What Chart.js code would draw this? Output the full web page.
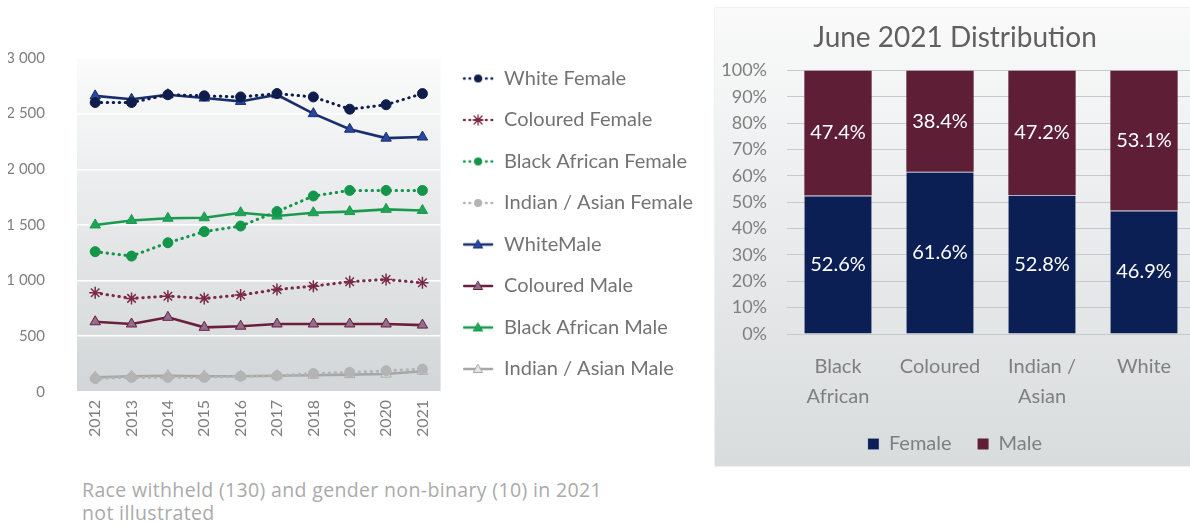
<!DOCTYPE html>
<html>
<head>
<meta charset="utf-8">
<title>Staff by race and gender</title>
<script src="https://cdn.jsdelivr.net/npm/chart.js@4.4.1/dist/chart.umd.min.js"></script>
<style>
  html, body { margin: 0; padding: 0; background: #fff; overflow: hidden; }
  body { width: 1190px; height: 525px; position: relative; font-family: Lato, sans-serif; }
  #trendChart { position: absolute; left: 0; top: 0; }
  #distPanel {
    position: absolute; left: 715px; top: 8px; width: 490px; height: 458px;
    background: linear-gradient(to bottom, #fafafa 0%, #e9ebec 50%, #d9dcdd 100%);
    box-shadow: 0 0 2px rgba(0, 0, 0, 0.18);
  }
  #distChart { position: absolute; left: 0; top: 0; }
  #note {
    position: absolute; left: 82px; top: 478px;
    font-family: 'Open Sans', sans-serif; font-size: 19.5px; letter-spacing: 0.35px;
    line-height: 23px; color: #aaaaaa;
  }
</style>
</head>
<body>
<canvas id="trendChart" width="703" height="450"></canvas>
<div id="distPanel"><canvas id="distChart" width="485" height="458"></canvas></div>
<div id="note">Race withheld (130) and gender non-binary (10) in 2021<br>not illustrated</div>

<script>
// Headcount per year, by race and gender
const years = ['2012', '2013', '2014', '2015', '2016', '2017', '2018', '2019', '2020', '2021'];
const whiteFemale        = [2600, 2600, 2670, 2660, 2650, 2680, 2650, 2540, 2580, 2680];
const colouredFemale     = [890, 840, 860, 840, 870, 920, 950, 990, 1010, 980];
const blackAfricanFemale = [1260, 1220, 1340, 1440, 1490, 1620, 1760, 1810, 1810, 1810];
const indianAsianFemale  = [120, 130, 130, 130, 140, 145, 165, 175, 190, 205];
const whiteMale          = [2660, 2630, 2670, 2640, 2610, 2670, 2500, 2360, 2280, 2290];
const colouredMale       = [630, 610, 670, 580, 590, 610, 610, 610, 610, 600];
const blackAfricanMale   = [1500, 1540, 1560, 1565, 1610, 1580, 1610, 1620, 1640, 1630];
const indianAsianMale    = [130, 140, 145, 140, 140, 145, 150, 155, 160, 185];
const countTicks = [0, 500, 1000, 1500, 2000, 2500, 3000];

// June 2021 split per race group
const raceGroups  = [['Black', 'African'], 'Coloured', ['Indian /', 'Asian'], 'White'];
const femaleShare = [52.6, 61.6, 52.8, 46.9];
const maleShare   = [47.4, 38.4, 47.2, 53.1];
const shareTicks  = [0, 10, 20, 30, 40, 50, 60, 70, 80, 90, 100];

const GREY_TEXT = '#7f7f7f';

// small line + marker image used in the legend
function legendSwatch(color, dotted, marker, fill) {
    const c = document.createElement('canvas');
    c.width = 32; c.height = 14;
    const g = c.getContext('2d');
    g.strokeStyle = color;
    g.lineCap = 'round';
    g.lineWidth = dotted ? 2.6 : 2.4;
    if (dotted) g.setLineDash([0.5, 5]);
    g.beginPath(); g.moveTo(2, 7); g.lineTo(30, 7); g.stroke();
    g.setLineDash([]);
    g.fillStyle = fill;
    g.lineWidth = 1;
    if (marker === 'circle') {
        g.beginPath(); g.arc(16, 7, 4, 0, Math.PI * 2); g.fill();
    } else if (marker === 'triangle') {
        g.beginPath(); g.moveTo(16, 2.5); g.lineTo(20.5, 10.5); g.lineTo(11.5, 10.5); g.closePath();
        g.fill(); g.stroke();
    } else if (marker === 'star') {
        g.lineWidth = 1.3;
        g.beginPath();
        g.moveTo(12, 3); g.lineTo(20, 11); g.moveTo(20, 3); g.lineTo(12, 11);
        g.moveTo(16, 2); g.lineTo(16, 12); g.moveTo(11, 7); g.lineTo(21, 7);
        g.stroke();
    }
    return c;
}

const series = [
    { label: 'White Female', data: whiteFemale, color: '#0f1d4d', fill: '#0f1d4d', dotted: true, marker: 'circle' },
    { label: 'Coloured Female', data: colouredFemale, color: '#7a2a45', fill: '#7a2a45', dotted: true, marker: 'star' },
    { label: 'Black African Female', data: blackAfricanFemale, color: '#13954a', fill: '#13954a', dotted: true, marker: 'circle' },
    { label: 'Indian / Asian Female', data: indianAsianFemale, color: '#b4b4b4', fill: '#b4b4b4', dotted: true, marker: 'circle' },
    { label: 'WhiteMale', data: whiteMale, color: '#1a2d6c', fill: '#2847a3', dotted: false, marker: 'triangle' },
    { label: 'Coloured Male', data: colouredMale, color: '#6b1f3d', fill: '#8f6f8d', dotted: false, marker: 'triangle' },
    { label: 'Black African Male', data: blackAfricanMale, color: '#199a4e', fill: '#20a556', dotted: false, marker: 'triangle' },
    { label: 'Indian / Asian Male', data: indianAsianMale, color: '#a7a7a7', fill: '#e4e4e4', dotted: false, marker: 'triangle' }
];

// grey gradient behind the plot area
const plotShade = {
    id: 'plotShade',
    beforeDraw(chart) {
        const { ctx, chartArea: a } = chart;
        const grad = ctx.createLinearGradient(0, a.top, 0, a.bottom);
        grad.addColorStop(0, '#fbfbfb');
        grad.addColorStop(0.5, '#e6e8e9');
        grad.addColorStop(1, '#d3d6d8');
        ctx.save();
        ctx.fillStyle = grad;
        ctx.fillRect(a.left, a.top, a.right - a.left, a.bottom - a.top);
        ctx.restore();
    }
};

const spaced = v => String(v).replace(/\B(?=(\d{3})+(?!\d))/g, ' ');

new Chart(document.getElementById('trendChart'), {
    type: 'line',
    data: {
        labels: years,
        datasets: series.map(s => ({
            label: s.label,
            data: s.data,
            borderColor: s.color,
            borderWidth: s.dotted ? 3 : 2.6,
            borderDash: s.dotted ? [0.5, 5.5] : [],
            borderCapStyle: s.dotted ? 'round' : 'butt',
            tension: 0,
            pointStyle: s.marker,
            pointRadius: s.marker === 'circle' ? 5 : 6,
            pointBackgroundColor: s.fill,
            pointBorderColor: s.color,
            pointBorderWidth: s.marker === 'star' ? 1.5 : 1,
            swatch: legendSwatch(s.color, s.dotted, s.marker, s.fill)
        }))
    },
    options: {
        responsive: false,
        animation: false,
        layout: { padding: { top: 47, left: 8, right: 0, bottom: 5 } },
        plugins: {
            tooltip: { enabled: false },
            legend: {
                position: 'right',
                align: 'start',
                maxWidth: 300,
                labels: {
                    usePointStyle: true,
                    pointStyleWidth: 32,
                    padding: 21.5,
                    color: '#737373',
                    font: { family: 'Lato', size: 20 },
                    generateLabels: chart => chart.data.datasets.map((ds, i) => ({
                        text: ds.label,
                        pointStyle: ds.swatch,
                        fillStyle: 'transparent',
                        strokeStyle: 'transparent',
                        lineWidth: 0,
                        fontColor: '#737373',
                        hidden: false,
                        datasetIndex: i
                    }))
                }
            }
        },
        scales: {
            x: {
                offset: true,
                grid: { display: false, drawTicks: false },
                border: { display: false },
                ticks: {
                    color: GREY_TEXT,
                    font: { family: 'Lato', size: 16 },
                    minRotation: 90, maxRotation: 90,
                    padding: 8
                }
            },
            y: {
                min: countTicks[0],
                max: countTicks[countTicks.length - 1],
                afterBuildTicks: s => { s.ticks = countTicks.map(v => ({ value: v })); },
                afterFit: s => { s.width = 69; s.paddingTop = 58; },
                grid: { color: '#ffffff', lineWidth: 1.5, drawTicks: false },
                border: { display: false },
                ticks: {
                    color: GREY_TEXT,
                    font: { family: 'Lato', size: 15 },
                    padding: 32,
                    autoSkip: false,
                    callback: v => spaced(v)
                }
            }
        }
    },
    plugins: [plotShade]
});

// percentage written in the middle of each bar segment
const segmentLabels = {
    id: 'segmentLabels',
    afterDatasetsDraw(chart) {
        const { ctx } = chart;
        ctx.save();
        ctx.fillStyle = '#ffffff';
        ctx.font = '20px Lato';
        ctx.textAlign = 'center';
        ctx.textBaseline = 'middle';
        chart.data.datasets.forEach((ds, i) => {
            chart.getDatasetMeta(i).data.forEach((bar, j) => {
                ctx.fillText(ds.data[j].toFixed(1) + '%', bar.x, (bar.y + bar.base) / 2);
            });
        });
        ctx.restore();
    }
};

new Chart(document.getElementById('distChart'), {
    type: 'bar',
    data: {
        labels: raceGroups,
        datasets: [
            {
                label: 'Female',
                data: femaleShare,
                backgroundColor: '#0c1f55',
                borderColor: '#aeb4d2',
                borderWidth: { top: 1, right: 0, bottom: 0, left: 0 },
                borderSkipped: false,
                categoryPercentage: 1,
                barPercentage: 0.66
            },
            {
                label: 'Male',
                data: maleShare,
                backgroundColor: '#5e1f36',
                borderWidth: 0,
                categoryPercentage: 1,
                barPercentage: 0.66
            }
        ]
    },
    options: {
        responsive: false,
        animation: false,
        layout: { padding: { top: 0, left: 0, right: 5, bottom: 2 } },
        plugins: {
            tooltip: { enabled: false },
            title: {
                display: true,
                text: 'June 2021 Distribution',
                color: '#606060',
                font: { family: 'Lato', size: 28, weight: 'normal' },
                padding: { top: 13, bottom: 16 }
            },
            legend: {
                position: 'bottom',
                labels: {
                    boxWidth: 11,
                    boxHeight: 11,
                    padding: 26,
                    color: GREY_TEXT,
                    font: { family: 'Lato', size: 20 }
                }
            }
        },
        scales: {
            x: {
                stacked: true,
                afterFit: s => { s.height -= 22; },
                grid: { display: false, drawTicks: false },
                border: { display: false },
                ticks: {
                    color: GREY_TEXT,
                    font: { family: 'Lato', size: 20, lineHeight: 1.5 },
                    padding: 18,
                    maxRotation: 0
                }
            },
            y: {
                stacked: true,
                min: 0,
                max: 100,
                afterBuildTicks: s => { s.ticks = shareTicks.map(v => ({ value: v })); },
                afterFit: s => { s.width = 72; },
                grid: { color: '#c6c9cb', drawTicks: false },
                border: { display: false },
                ticks: {
                    color: GREY_TEXT,
                    font: { family: 'Lato', size: 18 },
                    padding: 20,
                    autoSkip: false,
                    callback: v => v + '%'
                }
            }
        }
    },
    plugins: [segmentLabels]
});
</script>
</body>
</html>
